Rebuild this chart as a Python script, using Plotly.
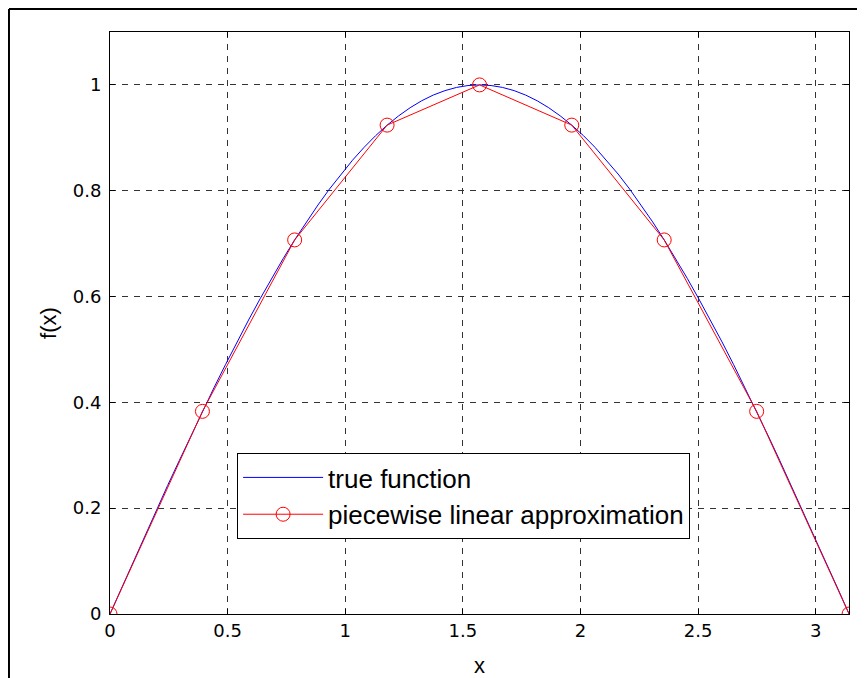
import plotly.graph_objects as go

# True function samples
x_true = [0.000, 0.049, 0.098, 0.147, 0.196, 0.245, 0.295, 0.344, 0.393, 0.442,
          0.491, 0.540, 0.589, 0.638, 0.687, 0.736, 0.785, 0.834, 0.884, 0.933,
          0.982, 1.031, 1.080, 1.129, 1.178, 1.227, 1.276, 1.325, 1.374, 1.424,
          1.473, 1.522, 1.571, 1.620, 1.669, 1.718, 1.767, 1.816, 1.865, 1.914,
          1.963, 2.013, 2.062, 2.111, 2.160, 2.209, 2.258, 2.307, 2.356, 2.405,
          2.454, 2.503, 2.553, 2.602, 2.651, 2.700, 2.749, 2.798, 2.847, 2.896,
          2.945, 2.994, 3.043, 3.093, 3.142]
y_true = [0.0000, 0.0491, 0.0980, 0.1467, 0.1951, 0.2430, 0.2903, 0.3369, 0.3827, 0.4276,
          0.4714, 0.5141, 0.5556, 0.5957, 0.6344, 0.6716, 0.7071, 0.7410, 0.7730, 0.8032,
          0.8315, 0.8577, 0.8819, 0.9040, 0.9239, 0.9415, 0.9569, 0.9700, 0.9808, 0.9892,
          0.9952, 0.9988, 1.0000, 0.9988, 0.9952, 0.9892, 0.9808, 0.9700, 0.9569, 0.9415,
          0.9239, 0.9040, 0.8819, 0.8577, 0.8315, 0.8032, 0.7730, 0.7410, 0.7071, 0.6716,
          0.6344, 0.5957, 0.5556, 0.5141, 0.4714, 0.4276, 0.3827, 0.3369, 0.2903, 0.2430,
          0.1951, 0.1467, 0.0980, 0.0491, 0.0000]

# Piecewise linear approximation nodes
x_nodes = [0.000, 0.393, 0.785, 1.178, 1.571, 1.963, 2.356, 2.749, 3.142]
y_nodes = [0.000, 0.383, 0.707, 0.924, 1.000, 0.924, 0.707, 0.383, 0.000]

x_ticks = [0, 0.5, 1, 1.5, 2, 2.5, 3]
x_ticklabels = ["0", "0.5", "1", "1.5", "2", "2.5", "3"]
y_ticks = [0, 0.2, 0.4, 0.6, 0.8, 1]
y_ticklabels = ["0", "0.2", "0.4", "0.6", "0.8", "1"]

fig = go.Figure()
fig.add_trace(go.Scatter(x=x_true, y=y_true, mode="lines", name="true function",
                         line=dict(color="#0000ff", width=1)))
fig.add_trace(go.Scatter(x=x_nodes, y=y_nodes, mode="lines+markers",
                         name="piecewise linear approximation",
                         line=dict(color="#ff0000", width=1),
                         marker=dict(symbol="circle-open", size=14,
                                     color="#ff0000", line=dict(width=1))))

tickfont = dict(family="DejaVu Sans", size=18, color="black")
axis_common = dict(showline=True, linecolor="black", linewidth=1, mirror="ticks",
                   ticks="inside", ticklen=5, tickcolor="black", tickwidth=1,
                   showgrid=True, gridcolor="#333333", gridwidth=1,
                   griddash="6px,6px", zeroline=False, tickfont=tickfont)

fig.update_xaxes(range=[0, 3.1416], tickvals=x_ticks, ticktext=x_ticklabels,
                 title=dict(text="x", font=dict(family="Liberation Sans", size=22, color="black"),
                            standoff=24),
                 **axis_common)
fig.update_yaxes(range=[0, 1.1], tickvals=y_ticks, ticktext=y_ticklabels,
                 ticklabelstandoff=4,
                 title=dict(text="f(x)", font=dict(family="Liberation Sans", size=22, color="black"),
                            standoff=10),
                 **axis_common)

# Outer figure frame (left and top edges visible)
fig.add_shape(type="line", xref="paper", yref="paper", x0=-0.1367, x1=-0.1367,
              y0=1.0395, y1=-0.3, line=dict(color="black", width=2))
fig.add_shape(type="line", xref="paper", yref="paper", x0=-0.1367, x1=1.3,
              y0=1.0395, y1=1.0395, line=dict(color="black", width=2))

fig.update_layout(
    width=857, height=670,
    margin=dict(l=102, r=16, t=24, b=64, autoexpand=False),
    paper_bgcolor="white", plot_bgcolor="white",
    showlegend=True,
    legend=dict(x=0.172, y=0.2766, xanchor="left", yanchor="top",
                bgcolor="white", bordercolor="black", borderwidth=1,
                font=dict(family="Liberation Sans", size=26, color="black"),
                itemwidth=80, tracegroupgap=0),
)

fig.write_html("out.html")
